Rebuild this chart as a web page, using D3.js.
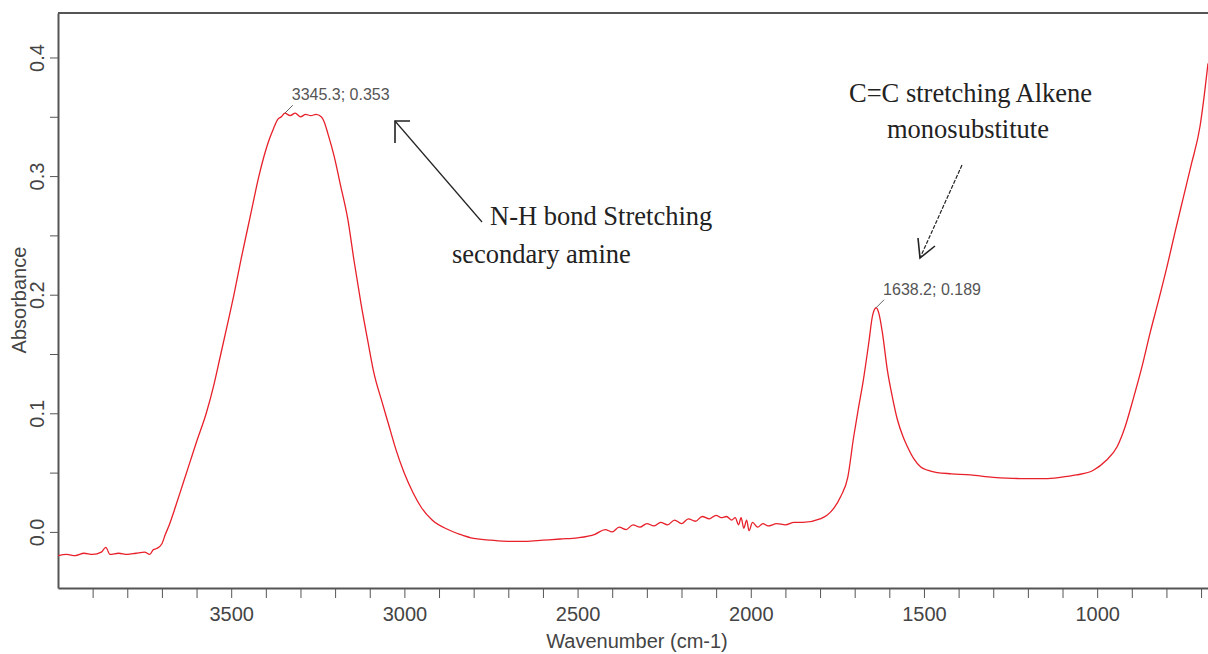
<!DOCTYPE html>
<html>
<head>
<meta charset="utf-8">
<script src="https://cdn.jsdelivr.net/npm/d3@7"></script>
<style>
  body { margin: 0; background: #fff; }
  .axis text { font-family: "Liberation Sans", Arial, sans-serif; font-size: 20px; fill: #444; }
  .axis path, .axis line { stroke: #555; }
  .title { font-family: "Liberation Sans", Arial, sans-serif; font-size: 20px; fill: #444; }
  .note { font-family: "Liberation Serif", "Times New Roman", serif; font-size: 26.5px; fill: #222; }
  .peak { font-family: "Liberation Sans", Arial, sans-serif; font-size: 16px; fill: #555; }
</style>
</head>
<body>
<svg id="chart" width="1208" height="654"></svg>
<script>
// IR spectrum (wavenumber in cm-1, absorbance)
const wavenumber = [
  4000, 3975, 3950, 3925, 3900, 3875, 3862, 3850, 3825, 3800, 3775, 3750, 3735, 3725, 3715,
  3700, 3690, 3680, 3660, 3640, 3620, 3600, 3572, 3550, 3530, 3510, 3492, 3470, 3445, 3420,
  3400, 3390, 3378, 3365, 3355, 3345, 3330, 3315, 3300, 3285, 3270, 3255, 3240, 3232, 3220,
  3203, 3185, 3163, 3145, 3125, 3105, 3088, 3065, 3047, 3025, 3001, 2975, 2952, 2920, 2874,
  2840, 2808, 2750, 2700, 2650, 2600, 2550, 2500, 2450, 2420, 2400, 2380, 2360, 2340, 2320,
  2300, 2280, 2260, 2240, 2220, 2200, 2180, 2160, 2140, 2120, 2100, 2085, 2070, 2055, 2045,
  2035, 2028, 2020, 2012, 2005, 1995, 1980, 1965, 1950, 1925, 1900, 1875, 1850, 1800, 1780,
  1760, 1740, 1720, 1703, 1690, 1675, 1660, 1648, 1638, 1630, 1620, 1606, 1590, 1577, 1560,
  1548, 1530, 1510, 1490, 1462, 1420, 1366, 1300, 1222, 1150, 1107, 1060, 1011, 975, 942,
  920, 896, 870, 847, 822, 798, 775, 752, 728, 703, 690, 680
];
const absorbance = [
  -0.020, -0.019, -0.020, -0.018, -0.019, -0.017, -0.013, -0.019, -0.018, -0.019, -0.018, -0.017, -0.019, -0.015, -0.014,
  -0.010, -0.002, 0.005, 0.022, 0.040, 0.058, 0.076, 0.100, 0.124, 0.150, 0.176, 0.200, 0.232, 0.266, 0.300,
  0.322, 0.331, 0.340, 0.348, 0.350, 0.353, 0.351, 0.353, 0.350, 0.352, 0.351, 0.352, 0.350, 0.346, 0.335,
  0.317, 0.293, 0.263, 0.228, 0.192, 0.160, 0.134, 0.110, 0.092, 0.070, 0.050, 0.033, 0.021, 0.010, 0.002,
  -0.002, -0.005, -0.007, -0.008, -0.008, -0.007, -0.006, -0.005, -0.002, 0.002, 0.000, 0.004, 0.002, 0.006, 0.004,
  0.007, 0.005, 0.008, 0.006, 0.010, 0.007, 0.011, 0.009, 0.013, 0.011, 0.014, 0.012, 0.013, 0.010, 0.012,
  0.006, 0.012, 0.003, 0.010, 0.001, 0.008, 0.004, 0.007, 0.005, 0.007, 0.006, 0.008, 0.008, 0.011, 0.014,
  0.020, 0.030, 0.046, 0.080, 0.103, 0.128, 0.158, 0.183, 0.189, 0.184, 0.168, 0.137, 0.112, 0.095, 0.080,
  0.072, 0.062, 0.055, 0.052, 0.050, 0.049, 0.048, 0.046, 0.045, 0.045, 0.046, 0.048, 0.052, 0.060, 0.072,
  0.088, 0.112, 0.140, 0.168, 0.196, 0.224, 0.253, 0.281, 0.310, 0.342, 0.370, 0.395
];
const xTickLabels = [3500, 3000, 2500, 2000, 1500, 1000];
const yTickLabels = [0.0, 0.1, 0.2, 0.3, 0.4];
const peakLabels = [
  { wn: 3345.3, ab: 0.353, text: '3345.3; 0.353' },
  { wn: 1638.2, ab: 0.189, text: '1638.2; 0.189' }
];

const svg = d3.select('#chart');
const plotLeft = 58;
const plotRight = 1208;
const plotTop = 13;
const plotBottom = 588;

const x = d3.scaleLinear().domain([4000, 680]).range([plotLeft, plotRight]);
const y = d3.scaleLinear().domain([-0.0473, 0.4375]).range([plotBottom, plotTop]);

// minor ticks every 100 cm-1 and every 0.05
const xTicks = d3.range(3900, 680, -100);
const yTicks = d3.range(0, 0.44, 0.05).map(d => +d.toFixed(2));

svg.append('defs').append('clipPath').attr('id', 'plot')
  .append('rect')
  .attr('x', plotLeft).attr('y', plotTop)
  .attr('width', plotRight - plotLeft).attr('height', plotBottom - plotTop);

const xAxis = svg.append('g')
  .attr('class', 'axis')
  .attr('transform', `translate(0,${plotBottom})`)
  .call(d3.axisBottom(x).tickValues(xTicks).tickSize(10).tickSizeOuter(0)
    .tickFormat(d => (xTickLabels.includes(d) ? d : '')));
xAxis.select('.domain').attr('stroke-width', 2);
xAxis.selectAll('text').attr('y', 19);

const yAxis = svg.append('g')
  .attr('class', 'axis')
  .attr('transform', `translate(${plotLeft},0)`)
  .call(d3.axisLeft(y).tickValues(yTicks).tickSize(8).tickSizeOuter(0)
    .tickFormat(d => (yTickLabels.some(v => Math.abs(v - d) < 1e-6) ? d.toFixed(1) : '')));
yAxis.select('.domain').attr('stroke-width', 2);
yAxis.selectAll('text')
  .attr('x', null).attr('dy', null)
  .attr('text-anchor', 'middle')
  .attr('transform', 'translate(-14,0) rotate(-90)');

// top frame line
svg.append('line')
  .attr('x1', plotLeft).attr('x2', plotRight).attr('y1', plotTop).attr('y2', plotTop)
  .attr('stroke', '#555').attr('stroke-width', 2);

svg.append('text')
  .attr('class', 'title')
  .attr('x', 637).attr('y', 648)
  .attr('text-anchor', 'middle')
  .text('Wavenumber (cm-1)');

svg.append('text')
  .attr('class', 'title')
  .attr('transform', 'translate(26,300) rotate(-90)')
  .attr('text-anchor', 'middle')
  .text('Absorbance');

const points = wavenumber.map((w, i) => [w, absorbance[i]]);
svg.append('path')
  .datum(points)
  .attr('clip-path', 'url(#plot)')
  .attr('fill', 'none')
  .attr('stroke', '#e8202a')
  .attr('stroke-width', 1.3)
  .attr('d', d3.line().curve(d3.curveMonotoneX).x(d => x(d[0])).y(d => y(d[1])));

// peak labels with short leader lines
peakLabels.forEach(p => {
  const px = x(p.wn);
  const py = y(p.ab);
  svg.append('line')
    .attr('x1', px).attr('y1', py).attr('x2', px + 8).attr('y2', py - 8)
    .attr('stroke', '#666').attr('stroke-width', 1);
  svg.append('text')
    .attr('class', 'peak')
    .attr('x', px + 7).attr('y', py - 13)
    .text(p.text);
});

// annotations
svg.append('text').attr('class', 'note').attr('x', 490).attr('y', 225).text('N-H bond Stretching');
svg.append('text').attr('class', 'note').attr('x', 452).attr('y', 263).text('secondary amine');
svg.append('text').attr('class', 'note').attr('x', 849).attr('y', 102).text('C=C stretching Alkene');
svg.append('text').attr('class', 'note').attr('x', 887).attr('y', 138).text('monosubstitute');

// N-H arrow: open bracket head pointing up-left
svg.append('line')
  .attr('x1', 482).attr('y1', 222).attr('x2', 395).attr('y2', 121)
  .attr('stroke', '#222').attr('stroke-width', 1.2);
svg.append('polyline')
  .attr('points', '410,121 395,121 395,143')
  .attr('fill', 'none').attr('stroke', '#222').attr('stroke-width', 1.6);

// C=C arrow: dashed line, head pointing down-left
svg.append('line')
  .attr('x1', 962).attr('y1', 165).attr('x2', 920).attr('y2', 258)
  .attr('stroke', '#222').attr('stroke-width', 1.2).attr('stroke-dasharray', '4,1.5');
svg.append('polyline')
  .attr('points', '918,238 920,258 935,246')
  .attr('fill', 'none').attr('stroke', '#222').attr('stroke-width', 1.6);
</script>
</body>
</html>
